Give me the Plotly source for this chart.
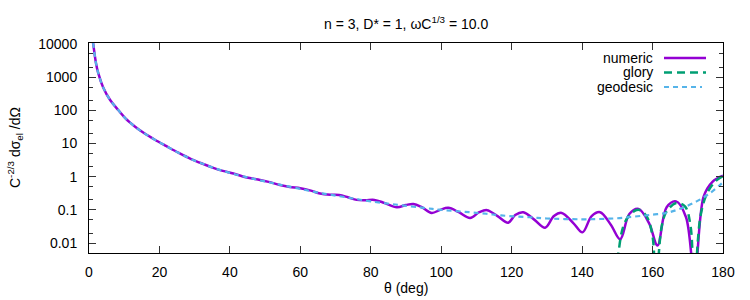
import plotly.graph_objects as go

# ---- data ----
numeric_theta = [0.8, 1.2, 2.0, 2.65, 4.0, 6.0, 8.3, 10.5, 13.1, 15.5, 18.7, 22.0, 25.5, 29.0,
                 32.5, 35.3, 38.0, 41.0, 44.8, 48.0, 51.0, 54.2, 57.0, 60.0, 63.0, 65.6, 68.5,
                 71.0, 73.5, 76.0, 78.5, 81.0, 84.0, 87.4, 90.0, 92.1, 94.5, 97.3, 99.7, 102.0,
                 105.0, 108.2, 110.8, 113.0, 116.0, 119.0, 121.0, 123.3, 126.5, 129.5, 132.0,
                 134.2, 137.5, 140.1, 142.7, 145.1, 148.2, 150.8, 153.4, 156.0, 159.0, 161.4,
                 164.0, 166.7, 169.5, 171.9, 174.5, 177.0, 180.0]
numeric_val = [20000, 10000, 2600, 1300, 500, 205, 102, 55, 32, 21, 13, 8.3, 5.2, 3.4,
               2.4, 1.85, 1.5, 1.25, 0.95, 0.82, 0.7, 0.56, 0.49, 0.45, 0.38, 0.31, 0.285,
               0.28, 0.24, 0.20, 0.195, 0.20, 0.16, 0.12, 0.14, 0.15, 0.12, 0.081, 0.10, 0.115,
               0.085, 0.057, 0.085, 0.098, 0.065, 0.041, 0.07, 0.085, 0.05, 0.029, 0.065,
               0.081, 0.04, 0.021, 0.065, 0.085, 0.035, 0.013, 0.075, 0.107, 0.04, 0.0085,
               0.12, 0.18, 0.06, 0.001, 0.25, 0.7, 1.07]

glory_theta = [149.3, 150.2, 151.7, 153.6, 156.0, 158.3, 160.0, 160.9, 162.6, 164.0, 166.7,
               169.2, 170.8, 171.8, 173.6, 175.5, 177.8, 180.0]
glory_val = [0.0005, 0.004, 0.032, 0.072, 0.1, 0.064, 0.016, 0.0005, 0.032, 0.09, 0.16,
             0.128, 0.032, 0.0005, 0.064, 0.32, 0.72, 1.05]

geodesic_theta = [0.8, 1.2, 2.0, 2.65, 4.0, 6.0, 8.3, 10.5, 13.1, 15.5, 18.7, 22.0, 25.5, 29.0,
                  32.5, 36.0, 40.0, 45.0, 50.0, 55.0, 60.0, 65.0, 70.0, 75.0, 80.0, 87.0, 95.0,
                  100.0, 108.0, 113.0, 117.0, 125.0, 130.0, 140.0, 145.0, 150.0, 155.0, 160.0,
                  164.0, 168.0, 172.5, 176.3, 179.2, 180.0]
geodesic_val = [20000, 10000, 2600, 1300, 500, 205, 102, 55, 32, 21, 13, 8.3, 5.2, 3.4,
                2.4, 1.75, 1.3, 0.95, 0.72, 0.55, 0.43, 0.33, 0.27, 0.22, 0.18, 0.145, 0.115,
                0.1, 0.085, 0.076, 0.068, 0.06, 0.055, 0.052, 0.053, 0.056, 0.063, 0.072,
                0.081, 0.11, 0.18, 0.32, 0.57, 0.68]

y_tickvals = [0.01, 0.1, 1, 10, 100, 1000, 10000]
y_ticktext = ["0.01", "0.1", "1", "10", "100", "1000", "10000"]
y_minorvals = [m * 10.0 ** e for e in range(-3, 4) for m in (2, 5)]
x_tickvals = [0, 20, 40, 60, 80, 100, 120, 140, 160, 180]

series_names = ["numeric", "glory", "geodesic"]
series_colors = ["#9400d3", "#009e73", "#56b4e9"]
series_dash = ["solid", "8px,5px", "5px,4px"]
series_width = [2.5, 2.5, 2.2]

FONT = "Liberation Sans"
FS = 14

fig = go.Figure()
for name, xs, ys, col, dash, lw in zip(series_names,
                                       [numeric_theta, glory_theta, geodesic_theta],
                                       [numeric_val, glory_val, geodesic_val],
                                       series_colors, series_dash, series_width):
    fig.add_trace(go.Scatter(x=xs, y=ys, mode="lines", name=name,
                             line=dict(color=col, width=lw, dash=dash, shape="spline",
                                       smoothing=1.0),
                             showlegend=False, cliponaxis=True))

W, H = 750, 300
L, R, T, B = 89, 27, 43, 47
pw, ph = W - L - R, H - T - B

def px(xp):
    return (xp - L) / pw

def py(yp):
    return (H - B - yp) / ph

# manual gnuplot-style legend (text left, sample right)
legend_rows = [58, 72.5, 87]
sample_ends = [706, 706, 702]
shapes = []
annotations = []
for name, col, dash, lw, yr, xe in zip(series_names, series_colors, series_dash,
                                       series_width, legend_rows, sample_ends):
    annotations.append(dict(text=name, x=px(655), y=py(yr), xref="paper", yref="paper",
                            xanchor="right", yanchor="middle", showarrow=False,
                            font=dict(family=FONT, size=FS, color="black")))
    shapes.append(dict(type="line", xref="paper", yref="paper", x0=px(664), x1=px(xe),
                       y0=py(yr), y1=py(yr), line=dict(color=col, width=lw, dash=dash)))

annotations.append(dict(text="n = 3, D* = 1, ωC<sup>1/3</sup> = 10.0", x=0.5, y=py(23),
                        xref="paper", yref="paper", xanchor="center", yanchor="middle",
                        showarrow=False, font=dict(family=FONT, size=FS, color="black")))
annotations.append(dict(text="θ (deg)", x=0.5, y=py(288), xref="paper", yref="paper",
                        xanchor="center", yanchor="middle", showarrow=False,
                        font=dict(family=FONT, size=FS, color="black")))
annotations.append(dict(text="C<sup>-2/3</sup> dσ<sub>el</sub> /dΩ", x=px(15), y=0.5,
                        xref="paper", yref="paper", xanchor="center", yanchor="middle",
                        textangle=-90, showarrow=False,
                        font=dict(family=FONT, size=FS, color="black")))

fig.update_layout(
    width=W, height=H,
    margin=dict(l=L, r=R, t=T, b=B, pad=0),
    paper_bgcolor="white", plot_bgcolor="white",
    font=dict(family=FONT, size=FS, color="black"),
    shapes=shapes, annotations=annotations,
    showlegend=False,
)
fig.update_xaxes(range=[0, 180], tickmode="array", tickvals=x_tickvals,
                 ticks="inside", ticklen=7, tickcolor="#333", tickwidth=1,
                 showline=True, linecolor="black", linewidth=1, mirror="allticks",
                 showgrid=False, zeroline=False, ticklabelstandoff=6)
fig.update_yaxes(type="log", range=[-2.3, 4.03], tickmode="array", tickvals=y_tickvals,
                 ticktext=y_ticktext, ticks="inside", ticklen=7, tickcolor="#333", tickwidth=1,
                 minor=dict(tickmode="array", tickvals=y_minorvals, ticks="inside", ticklen=4,
                            tickcolor="#333", showgrid=False),
                 showline=True, linecolor="black", linewidth=1, mirror="allticks",
                 showgrid=False, zeroline=False, ticklabelstandoff=8)

fig.write_html("out.html")
